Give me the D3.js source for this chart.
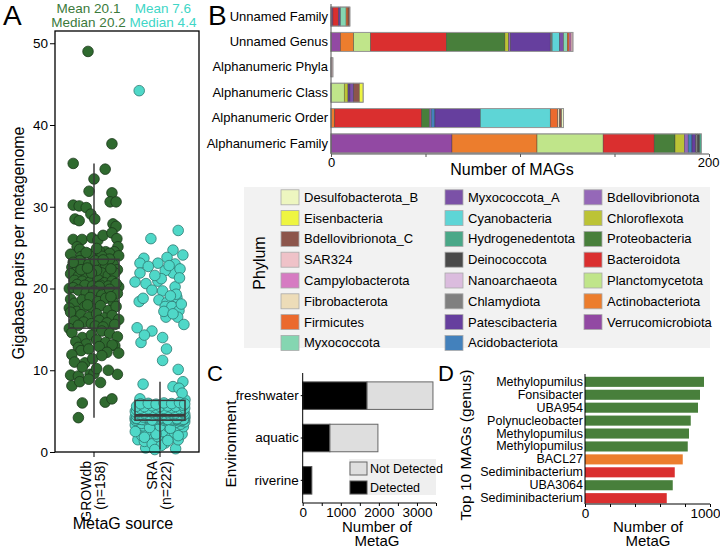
<!DOCTYPE html>
<html><head><meta charset="utf-8">
<script src="https://cdn.jsdelivr.net/npm/d3@7/dist/d3.min.js"></script>
<style>
html,body{margin:0;padding:0;background:#fff;}
svg text{font-family:"Liberation Sans",Arial,Helvetica,sans-serif;}
</style></head>
<body>
<svg id="chart" width="720" height="549"></svg>
<script>
// ================= DATA =================
// Panel A
const metagSources = ["GROWdb", "SRA"];
const metagSourceN = ["(n=158)", "(n=222)"];
const meanLabels = ["Mean 20.1", "Mean 7.6"];
const medianLabels = ["Median 20.2", "Median 4.4"];
const gbTicks = [0, 10, 20, 30, 40, 50];
// [jitter (-1..1), gigabase pairs]
const growdbPoints = [
[-0.23,49.0],[0.69,37.7],[-0.8,35.3],[0.43,34.6],[0,33.4],[-0.19,31.9],[0.69,31.7],[-0.8,30.2],[-0.57,30.1],[-0.3,29.9],
[0.62,30.6],[0.85,30.6],[-0.12,29.1],[-0.73,28.5],[-0.57,28.3],[0.03,28.5],[0.73,27.9],[0.85,27.6],[-0.8,26.0],[-0.46,26.0],
[-0.08,26.2],[0.15,25.9],[0.35,26.5],[0.69,26.8],[0.88,26.1],[-0.65,25.1],[-0.55,24.8],[0.92,25.1],[0.45,24.5],[0.78,24.5],
[-0.1,24.2],[-0.5,23.9],[0.2,24.6],[0.6,24.3],[-0.3,24.4],[0.95,24.0],[-0.9,24.2],[0.3,23.95],[0.1,24.9],
[-0.85,22.6],[-0.7,22.0],[-0.35,22.8],[0.25,23.1],[0.45,22.9],[0.75,22.9],[-0.55,23.4],[-0.2,23.0],[0.05,23.4],[0.6,23.6],
[0.9,22.3],[-0.9,21.8],[-0.6,21.5],[-0.3,21.7],[0.0,21.4],[0.3,21.9],[0.55,21.6],[0.8,21.9],[-0.75,21.0],[-0.45,20.9],
[-0.15,20.8],[0.15,21.1],[0.4,20.7],[0.7,20.9],[0.95,20.2],[-0.95,20.0],[-0.65,20.5],[-0.35,20.4],[-0.05,20.3],[0.25,20.4],
[0.55,20.3],[0.85,20.6],[-0.5,22.3],[0.1,22.2],[-0.8,23.2],[0.35,23.5],[-0.1,21.9],[0.65,22.4],[0.2,20.25],[-0.25,22.5],
[-0.9,18.7],[-0.8,20.1],[-0.6,19.8],[-0.3,19.5],[0.0,19.7],[0.3,19.2],[0.6,19.9],[0.9,19.4],[-0.75,18.2],[-0.45,18.6],
[-0.15,18.9],[0.15,18.4],[0.45,18.8],[0.75,18.3],[-0.95,17.6],[-0.65,17.2],[-0.35,17.8],[-0.05,17.5],[0.25,17.9],[0.55,17.3],
[0.85,17.8],[-0.9,17.1],[-0.5,16.8],[-0.2,16.5],[0.1,16.9],[0.4,16.4],[0.7,16.7],[0.95,16.2],[-0.75,16.0],[-0.4,15.9],
[-0.1,15.7],[0.2,16.1],[0.5,15.8],[0.8,15.6],[-0.95,15.1],[-0.6,15.5],[0.05,15.4],[0.35,15.3],[0.65,19.0],[-0.25,18.0],
[-0.85,14.6],[-0.45,14.0],[-0.1,14.3],[0.3,14.8],[0.6,14.5],[0.9,14.1],[-0.7,13.5],[-0.3,13.2],[0.1,13.7],[0.45,13.4],
[0.8,13.0],[-0.6,12.8],[0.7,13.1],[0.95,12.1],[-0.5,12.4],[-0.2,12.6],[0.2,12.9],[-0.85,11.9],[0.5,12.2],[-0.75,11.0],
[-0.35,10.9],[-0.05,11.4],[0.3,11.8],[-0.9,9.4],[-0.6,9.3],[-0.15,9.5],[0.0,9.6],[0.9,9.5],[-0.85,8.1],[-0.55,8.6],
[-0.2,8.9],[0.25,8.5],[0.1,10.2],[-0.45,10.4],[-0.45,6.0],[0.43,6.1],[0.69,6.5],[-0.6,4.2],[0.55,10.0]
];
const sraPoints = [
[-0.8,44.2],[0.7,27.1],[-0.35,26.1],[0.88,24.1],[0.5,24.7],[-0.62,23.7],[-0.77,23.1],[0.27,23.8],[-0.08,23.1],[0.58,23.0],
[-0.96,20.8],[-0.77,21.9],[0.5,21.9],[0.77,22.4],[0.2,22.2],[-0.54,20.6],[-0.31,19.8],[0.1,19.7],[-0.08,20.9],[0.58,20.2],
[0.65,18.9],[-0.8,18.4],[-0.65,18.8],[-0.04,18.6],[0.27,18.3],[0.2,17.8],[0.46,17.8],[0.73,17.3],[0.23,16.5],[0.68,16.5],
[0.92,15.6],[-0.88,15.2],[-0.31,14.8],[0.1,14.0],[-0.73,13.4],[0.1,11.2],[0.7,10.1],[-0.65,8.3],[0.88,8.6],[0.5,8.0],
[0.73,7.8],[0.35,22.8],[0.75,21.3],[-0.45,22.7],[0.05,21.2],[0.62,19.3],[0.4,19.1],[-0.2,21.6],[0.82,18.1],[0.15,17.2],
[0.5,16.9],[-0.6,14.3],[0.25,12.6],[-0.77,6.5],[0.96,6.4],[0.85,7.2],
[-0.55,0.5],[0.6,0.4],[-0.85,1.5],[-0.6,1.3],[0.2,1.1],[0.45,1.7],[0.7,1.5],[-0.3,1.0],[0.05,0.8],[-0.7,2.0],
[-0.4,2.3],[-0.1,1.9],[0.3,2.1],[0.55,2.4],[0.85,2.2],[-0.9,2.7],[-0.75,2.9],[-0.5,2.6],[-0.2,2.8],[0.1,2.5],
[0.35,3.0],[0.65,2.7],[0.9,3.1],[-0.95,3.3],[-0.65,3.2],[-0.35,3.4],[-0.05,3.1],[0.25,3.3],[0.5,3.5],[0.8,3.4],
[-0.8,3.6],[-0.55,3.7],[-0.25,3.6],[0.05,3.8],[0.35,3.7],[0.6,3.6],[0.95,3.7],[-0.9,3.85],[-0.45,3.8],[0.15,3.5],
[0.75,3.8],[-0.15,2.2],[0.4,2.9],[-0.6,1.8],[0.0,3.2],[-0.3,3.85],[0.2,3.85],[0.85,3.85],[-0.7,3.5],[0.55,3.85],
[-0.95,2.5],[0.3,1.4],[-0.2,0.3],[0.7,2.0],[-0.4,3.0],
[-0.95,3.9],[-0.6,3.95],[-0.25,3.9],[0.1,3.95],[0.45,3.9],[0.8,3.95],
[-0.8,4.0],[-0.45,4.05],[-0.1,4.0],[0.25,4.05],[0.6,4.0],[0.95,4.05],
[-0.95,4.1],[-0.6,4.15],[-0.25,4.1],[0.1,4.15],[0.45,4.1],[0.8,4.15],
[-0.8,4.2],[-0.45,4.25],[-0.1,4.2],[0.25,4.25],[0.6,4.2],[0.95,4.25],
[-0.95,4.3],[-0.6,4.35],[-0.25,4.3],[0.1,4.35],[0.45,4.3],[0.8,4.35],
[-0.8,4.4],[-0.45,4.38],[-0.1,4.4],[0.25,4.38],[0.6,4.4],[0.95,4.38],
[-0.7,3.98],[-0.35,4.02],[0.0,4.08],[0.35,4.12],[0.7,4.18],[-0.5,4.22],[-0.15,4.28],[0.2,4.32],[0.55,4.36],[0.9,4.0],
[-0.9,4.12],[-0.65,4.28],[-0.3,3.92],[0.05,4.22],[0.4,4.02],[0.75,4.32],[-0.05,4.38],[0.3,3.98],[0.65,4.08],
[-0.9,4.5],[-0.6,4.55],[-0.3,4.48],[0,4.52],[0.3,4.5],[0.6,4.56],[0.9,4.47],
[-0.75,4.65],[-0.45,4.62],[-0.15,4.68],[0.15,4.64],[0.45,4.7],[0.75,4.63],[0.95,4.66],
[-0.9,4.8],[-0.6,4.78],[-0.3,4.84],[0,4.79],[0.3,4.82],[0.6,4.77],[0.9,4.83],
[-0.75,4.95],[-0.45,4.98],[-0.15,4.93],[0.15,4.97],[0.45,4.94],[0.75,4.99],[-0.95,4.96],
[-0.9,5.15],[-0.6,5.12],[-0.3,5.18],[0,5.14],[0.3,5.16],[0.6,5.1],[0.9,5.2],
[-0.75,5.35],[-0.45,5.3],[-0.15,5.38],[0.15,5.33],[0.45,5.4],[0.75,5.32],[0.95,5.36],
[-0.9,5.6],[-0.6,5.55],[-0.3,5.65],[0,5.58],[0.3,5.62],[0.6,5.57],[0.9,5.7],
[-0.75,5.9],[-0.45,5.95],[-0.15,5.85],[0.15,6.0],[0.45,5.92],[0.75,6.05],[0.95,5.88]
];

// Panel B
const magCategories = ["Unnamed Family","Unnamed Genus","Alphanumeric Phyla","Alphanumeric Class","Alphanumeric Order","Alphanumeric Family"];
const phylumStack = ["Verrucomicrobiota","Actinobacteriota","Planctomycetota","Bacteroidota","Proteobacteria","Chloroflexota",
  "Bdellovibrionota","Acidobacteriota","Patescibacteria","Chlamydiota","Nanoarchaeota","Deinococcota","Hydrogenedentota",
  "Cyanobacteria","Myxococcota_A","Myxococcota","Firmicutes","Fibrobacterota","Campylobacterota","SAR324",
  "Bdellovibrionota_C","Eisenbacteria","Desulfobacterota_B"];
const phylumColors = ["#9249a3","#ec7d2d","#c0e58a","#da2f2f","#487f3b","#bcc336",
  "#9568b8","#4381bc","#663f9e","#808080","#dbbcde","#4a4a4a","#4aa888",
  "#5ed5d6","#7b51a7","#85d6b1","#eb6a2e","#eddcb8","#d67bc2","#efc2c8",
  "#8c554b","#eef541","#edf6c0"];
const legendPhyla = ["Desulfobacterota_B","Eisenbacteria","Bdellovibrionota_C","SAR324","Campylobacterota","Fibrobacterota","Firmicutes","Myxococcota",
  "Myxococcota_A","Cyanobacteria","Hydrogenedentota","Deinococcota","Nanoarchaeota","Chlamydiota","Patescibacteria","Acidobacteriota",
  "Bdellovibrionota","Chloroflexota","Proteobacteria","Bacteroidota","Planctomycetota","Actinobacteriota","Verrucomicrobiota"];
// counts per phylum, in phylumStack order
const unnamedFamily      = [1,0,0,3,0,0,0,0,1,0,0,0,0,0,0,3,1,0,0,0,1,0,0];
const unnamedGenus       = [5,7,9,40,31,2,1,0,21,1,0,0,0,4,2,2,1,0,1,1,0,0,0];
const alphanumericPhyla  = [0,0,0,0,0,0,0,0,0,0,0,0,0,0,0,0,0,0,0,1,0,0,0];
const alphanumericClass  = [0,0,7,0,0,2,0,0,1,0,0,0,0,0,2,0,0,0,0,0,3,2,0];
const alphanumericOrder  = [0,2,0,46,4,0,1,2,24,0,0,0,0,37,0,0,4,1,0,0,1,0,1];
const alphanumericFamily = [64,45,35,27,11,5,2,2,2,1,0,1,1,0,0,0,0,0,0,0,0,0,0];
const magTicks = [0,50,100,150,200];

// Panel C
const environments = ["freshwater","aquatic","riverine"];
const detectedCounts = [1690,715,240];
const notDetectedCounts = [1730,1260,0];
const metagTicks = [0,500,1000,1500,2000,2500,3000,3500];

// Panel D
const topGenera = ["Methylopumilus","Fonsibacter","UBA954","Polynucleobacter","Methylopumilus","Methylopumilus","BACL27","Sediminibacterium","UBA3064","Sediminibacterium"];
const topCounts = [952,920,904,846,832,822,782,718,702,654];
const topPhyla = ["Proteobacteria","Proteobacteria","Proteobacteria","Proteobacteria","Proteobacteria","Proteobacteria","Actinobacteriota","Bacteroidota","Proteobacteria","Bacteroidota"];
const topTicks = [0,200,400,600,800,1000];

// ================= DRAWING =================
const svg = d3.select("#chart");
const phylumColor = d3.scaleOrdinal().domain(phylumStack).range(phylumColors);

function styleAxis(g, fs){
  g.selectAll("text").attr("font-size", fs).attr("fill", "#000");
  g.selectAll("line").attr("stroke", "#000");
  g.selectAll("path").attr("stroke", "#000");
}

// ---------- Panel A ----------
const gA = svg.append("g");
const yA = d3.scaleLinear().domain([0, 51.5]).range([452, 31]);
const xA = d3.scalePoint().domain(metagSources).range([94, 160]);
const jitterPx = 26;
const fillsA = ["#2f6a2f", "#4fd8c8"];
const strokesA = ["#1c3a1c", "#2f7a72"];
const textColA = ["#3b7a3b", "#40d6c6"];
const pointSets = [growdbPoints, sraPoints];

gA.append("g").attr("transform", "translate(55,0)")
  .call(d3.axisLeft(yA).tickValues(gbTicks).tickSize(5).tickPadding(2))
  .call(g => g.select(".domain").remove())
  .call(g => styleAxis(g, 13.5));

metagSources.forEach((s, i) => {
  gA.append("g").selectAll("circle").data(pointSets[i]).join("circle")
    .attr("cx", d => xA(s) + d[0] * jitterPx)
    .attr("cy", d => yA(d[1]))
    .attr("r", 5.3)
    .attr("fill", fillsA[i])
    .attr("stroke", strokesA[i])
    .attr("stroke-width", 0.8);
});

metagSources.forEach((s, i) => {
  const vals = pointSets[i].map(d => d[1]).sort(d3.ascending);
  const q1 = d3.quantile(vals, 0.25), med = d3.quantile(vals, 0.5), q3 = d3.quantile(vals, 0.75);
  const iqr = q3 - q1;
  const lo = d3.min(vals.filter(v => v >= q1 - 1.5 * iqr));
  const hi = d3.max(vals.filter(v => v <= q3 + 1.5 * iqr));
  const cx = xA(s), hw = 25;
  const bg = gA.append("g").attr("stroke", "#3a3a3a").attr("fill", "none");
  bg.append("line").attr("x1", cx).attr("x2", cx).attr("y1", yA(lo)).attr("y2", yA(hi)).attr("stroke-width", 1.5);
  bg.append("rect").attr("x", cx - hw).attr("width", 2 * hw).attr("y", yA(q3)).attr("height", yA(q1) - yA(q3)).attr("stroke-width", 1.5);
  bg.append("line").attr("x1", cx - hw).attr("x2", cx + hw).attr("y1", yA(med)).attr("y2", yA(med)).attr("stroke-width", 2.6);
});

gA.append("rect").attr("x", 55).attr("y", 31).attr("width", 144).attr("height", 421)
  .attr("fill", "none").attr("stroke", "#000").attr("stroke-width", 1.3);

// x ticks & labels
const statX = [88.5, 163];
metagSources.forEach((s, i) => {
  gA.append("line").attr("x1", xA(s)).attr("x2", xA(s)).attr("y1", 452).attr("y2", 457).attr("stroke", "#000");
  const t = gA.append("text").attr("transform", `translate(${xA(s)},461) rotate(-90)`)
    .attr("text-anchor", "end").attr("font-size", 14);
  t.append("tspan").attr("x", 0).attr("y", -3.5).text(s);
  t.append("tspan").attr("x", 0).attr("y", 10.5).text(metagSourceN[i]);
  gA.append("text").attr("x", statX[i]).attr("y", 13).attr("text-anchor", "middle")
    .attr("font-size", 13.5).attr("fill", textColA[i]).text(meanLabels[i]);
  gA.append("text").attr("x", statX[i]).attr("y", 27).attr("text-anchor", "middle")
    .attr("font-size", 13.5).attr("fill", textColA[i]).text(medianLabels[i]);
});
gA.append("text").attr("x", 123).attr("y", 529).attr("text-anchor", "middle").attr("font-size", 16).text("MetaG source");
gA.append("text").attr("transform", "translate(24,243) rotate(-90)").attr("text-anchor", "middle")
  .attr("font-size", 16).text("Gigabase pairs per metagenome");
svg.append("text").attr("x", 3).attr("y", 25).attr("font-size", 28).text("A");

// ---------- Panel B ----------
const gB = svg.append("g");
const xB = d3.scaleLinear().domain([0, 200]).range([331, 709]);
const yB = d3.scaleBand().domain(magCategories).range([4, 156]).paddingInner(0.25).paddingOuter(0.12);
const magRowsRaw = [unnamedFamily, unnamedGenus, alphanumericPhyla, alphanumericClass, alphanumericOrder, alphanumericFamily];
const magRows = magCategories.map((c, i) => {
  const o = { category: c };
  phylumStack.forEach((p, j) => o[p] = magRowsRaw[i][j]);
  return o;
});
const stackB = d3.stack().keys(phylumStack)(magRows);
stackB.forEach(layer => {
  gB.append("g").selectAll("rect").data(layer.filter(d => d[1] > d[0])).join("rect")
    .attr("x", d => xB(d[0]))
    .attr("width", d => xB(d[1]) - xB(d[0]))
    .attr("y", d => yB(d.data.category))
    .attr("height", yB.bandwidth())
    .attr("fill", phylumColor(layer.key))
    .attr("stroke", "#3a3a3a").attr("stroke-width", 0.5).attr("stroke-opacity", 0.8);
});
// bar outlines
magRows.forEach((r, i) => {
  const tot = d3.sum(magRowsRaw[i]);
  gB.append("rect").attr("x", xB(0)).attr("width", xB(tot) - xB(0))
    .attr("y", yB(r.category)).attr("height", yB.bandwidth())
    .attr("fill", "none").attr("stroke", "#999").attr("stroke-width", 1);
});
gB.append("g").attr("transform", "translate(0,154)")
  .call(d3.axisBottom(xB).tickValues(magTicks).tickSize(3).tickPadding(1)
    .tickFormat(d => (d === 0 || d === 200) ? d : ""))
  .call(g => g.select(".domain").attr("d", "M331,0H709"))
  .call(g => styleAxis(g, 13))
  .call(g => g.selectAll("line,path").attr("stroke", "#555"))
  .call(g => g.selectAll(".tick text").filter(d => d === 200).attr("text-anchor", "end").attr("dx", 10));
gB.append("g").attr("transform", "translate(331,0)")
  .call(d3.axisLeft(yB).tickSize(0).tickPadding(3))
  .call(g => g.select(".domain").attr("d", "M0,4V154"))
  .call(g => styleAxis(g, 13))
  .call(g => g.select(".domain").attr("stroke", "#555"));
gB.append("text").attr("x", 512).attr("y", 175).attr("text-anchor", "middle").attr("font-size", 16).text("Number of MAGs");
svg.append("text").attr("x", 208).attr("y", 25).attr("font-size", 28).text("B");

// legend
const gL = svg.append("g");
gL.append("rect").attr("x", 244).attr("y", 187).attr("width", 466).attr("height", 161).attr("fill", "#f2f2f2");
gL.append("text").attr("transform", "translate(265,263) rotate(-90)").attr("text-anchor", "middle").attr("font-size", 16).text("Phylum");
const legSwX = [281, 445, 584], legTxX = [304, 468, 607];
legendPhyla.forEach((p, k) => {
  const col = Math.floor(k / 8), row = k % 8;
  const cy = 197.3 + row * 20.8;
  gL.append("rect").attr("x", legSwX[col]).attr("y", cy - 7.5).attr("width", 18).attr("height", 15)
    .attr("fill", phylumColor(p)).attr("stroke", "#aaa").attr("stroke-width", 0.8);
  gL.append("text").attr("x", legTxX[col]).attr("y", cy + 4.5).attr("font-size", 13).text(p);
});

// ---------- Panel C ----------
const gC = svg.append("g");
const xC = d3.scaleLinear().domain([0, 3500]).range([302.7, 436]);
const yC = d3.scaleBand().domain(environments).range([373, 503]).paddingInner(0.35).paddingOuter(0.21);
environments.forEach((e, i) => {
  gC.append("rect").attr("x", xC(0)).attr("width", xC(detectedCounts[i]) - xC(0))
    .attr("y", yC(e)).attr("height", yC.bandwidth()).attr("fill", "#000").attr("stroke", "#555").attr("stroke-width", 1);
  if (notDetectedCounts[i] > 0)
    gC.append("rect").attr("x", xC(detectedCounts[i])).attr("width", xC(detectedCounts[i] + notDetectedCounts[i]) - xC(detectedCounts[i]))
      .attr("y", yC(e)).attr("height", yC.bandwidth()).attr("fill", "#dedede").attr("stroke", "#666").attr("stroke-width", 1);
});
gC.append("g").attr("transform", "translate(0,503)")
  .call(d3.axisBottom(xC).tickValues(metagTicks).tickSize(3).tickPadding(1)
    .tickFormat(d => d % 1000 === 0 ? d : ""))
  .call(g => g.select(".domain").attr("d", "M302.7,0H436"))
  .call(g => styleAxis(g, 13.5));
gC.append("g").attr("transform", "translate(302.7,0)")
  .call(d3.axisLeft(yC).tickSize(2).tickPadding(2))
  .call(g => g.select(".domain").attr("d", "M0,373V503"))
  .call(g => styleAxis(g, 13.5));
// legend C
gC.append("rect").attr("x", 349).attr("y", 459).attr("width", 87).attr("height", 36).attr("fill", "#efefef");
gC.append("rect").attr("x", 350).attr("y", 462).attr("width", 17).attr("height", 13).attr("fill", "#dedede").attr("stroke", "#666");
gC.append("rect").attr("x", 350).attr("y", 481).attr("width", 17).attr("height", 13).attr("fill", "#000").attr("stroke", "#555");
gC.append("text").attr("x", 370).attr("y", 472.5).attr("font-size", 12.5).text("Not Detected");
gC.append("text").attr("x", 370).attr("y", 491.5).attr("font-size", 12.5).text("Detected");
gC.append("text").attr("transform", "translate(236,444) rotate(-90)").attr("text-anchor", "middle").attr("font-size", 15.5).text("Environment");
gC.append("text").attr("x", 377).attr("y", 532).attr("text-anchor", "middle").attr("font-size", 15).text("Number of");
gC.append("text").attr("x", 377).attr("y", 546).attr("text-anchor", "middle").attr("font-size", 15).text("MetaG");
svg.append("text").attr("x", 207).attr("y", 381).attr("font-size", 22).text("C");

// ---------- Panel D ----------
const gD = svg.append("g");
const xD = d3.scaleLinear().domain([0, 1000]).range([585, 710]);
const yD = d3.scaleBand().domain(d3.range(topGenera.length)).range([375.5, 504.5]).paddingInner(0.22).paddingOuter(0.1);
gD.append("g").selectAll("rect").data(topCounts).join("rect")
  .attr("x", xD(0)).attr("width", d => xD(d) - xD(0))
  .attr("y", (d, i) => yD(i)).attr("height", yD.bandwidth())
  .attr("fill", (d, i) => phylumColor(topPhyla[i]));
gD.append("g").attr("transform", "translate(0,504)")
  .call(d3.axisBottom(xD).tickValues(topTicks).tickSize(3).tickPadding(1)
    .tickFormat(d => (d === 0 || d === 1000) ? d : ""))
  .call(g => g.select(".domain").attr("d", "M585,0H710"))
  .call(g => styleAxis(g, 13.5))
  .call(g => g.selectAll(".tick text").filter(d => d === 1000).attr("text-anchor", "end").attr("dx", 10));
gD.append("g").attr("transform", "translate(585,0)")
  .call(d3.axisLeft(yD).tickSize(0).tickPadding(2).tickFormat(i => topGenera[i]))
  .call(g => g.select(".domain").attr("d", "M0,374V504"))
  .call(g => styleAxis(g, 12.5));
gD.append("text").attr("transform", "translate(471,445) rotate(-90)").attr("text-anchor", "middle").attr("font-size", 15.5).text("Top 10 MAGs (genus)");
gD.append("text").attr("x", 648).attr("y", 532).attr("text-anchor", "middle").attr("font-size", 15).text("Number of");
gD.append("text").attr("x", 648).attr("y", 546).attr("text-anchor", "middle").attr("font-size", 15).text("MetaG");
svg.append("text").attr("x", 438).attr("y", 381).attr("font-size", 22).text("D");
</script>
</body></html>
